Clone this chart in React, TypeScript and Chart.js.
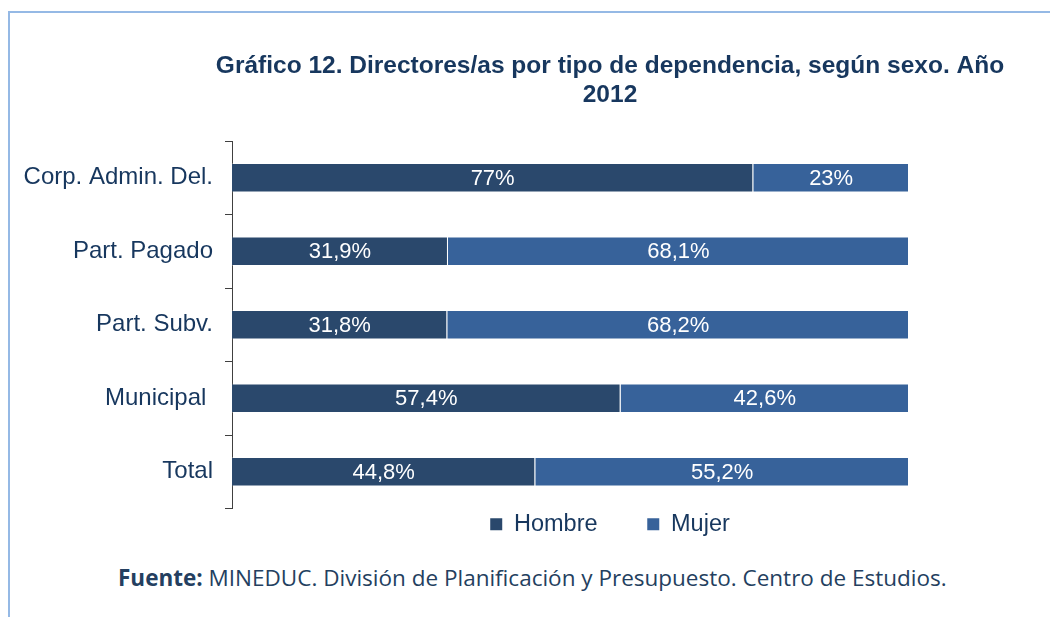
import React, { useEffect, useRef } from 'react';
import { Chart, registerables } from 'chart.js';

Chart.register(...registerables);

const categories = ['Corp. Admin. Del.', 'Part. Pagado', 'Part. Subv.', 'Municipal ', 'Total'];
const seriesNames = ['Hombre', 'Mujer'];
const hombre = [77, 31.9, 31.8, 57.4, 44.8];
const mujer = [23, 68.1, 68.2, 42.6, 55.2];
const titleLines = ['Gráfico 12. Directores/as por tipo de dependencia, según sexo. Año', '2012'];
const sourceLabel = 'Fuente:';
const sourceText = ' MINEDUC. División de Planificación y Presupuesto. Centro de Estudios.';

const FONT = "'Liberation Sans', Arial, sans-serif";
const NAVY = '#17375E';
const C_HOMBRE = '#2A486C';
const C_MUJER = '#37629A';

const fmt = (v: number) => String(v).replace('.', ',') + '%';

const valueLabels = {
  id: 'valueLabels',
  afterDatasetsDraw(chart: any) {
    const ctx = chart.ctx;
    ctx.save();
    ctx.fillStyle = '#FFFFFF';
    ctx.font = `22px ${FONT}`;
    ctx.textAlign = 'center';
    ctx.textBaseline = 'middle';
    chart.data.datasets.forEach((ds: any, di: number) => {
      const meta = chart.getDatasetMeta(di);
      meta.data.forEach((el: any, i: number) => {
        const { x, base, y } = el.getProps(['x', 'base', 'y'], true);
        ctx.fillText(fmt(ds.data[i]), (x + base) / 2, y + 1);
      });
    });
    ctx.restore();
  },
};

export default function App() {
  const ref = useRef<HTMLCanvasElement | null>(null);

  useEffect(() => {
    if (!ref.current) return;
    const chart = new Chart(ref.current, {
      type: 'bar',
      data: {
        labels: categories,
        datasets: [
          {
            label: seriesNames[0],
            data: hombre,
            backgroundColor: C_HOMBRE,
            borderColor: 'rgba(255,255,255,0.25)',
            borderWidth: 1,
          },
          {
            label: seriesNames[1],
            data: mujer,
            backgroundColor: C_MUJER,
            borderColor: 'rgba(255,255,255,0.25)',
            borderWidth: 1,
          },
        ],
      },
      options: {
        indexAxis: 'y',
        responsive: false,
        animation: false,
        maintainAspectRatio: false,
        layout: { padding: 0 },
        datasets: { bar: { categoryPercentage: 1, barPercentage: 0.4 } },
        scales: {
          x: { stacked: true, min: 0, max: 100, display: false },
          y: {
            stacked: true,
            position: 'left',
            grid: {
              display: true,
              drawOnChartArea: false,
              drawTicks: true,
              tickLength: 7,
              offset: true,
              color: '#404040',
            },
            border: { display: true, color: '#404040', width: 1 },
            ticks: { color: NAVY, font: { family: FONT, size: 24 }, padding: 12 },
            afterFit: (s: any) => {
              s.width = 232;
            },
          },
          y2: {
            type: 'category',
            position: 'right',
            display: true,
            grid: { display: false },
            border: { display: false },
            ticks: { display: false },
            afterFit: (s: any) => {
              s.width = 311;
            },
          },
        },
        plugins: {
          title: {
            display: true,
            text: titleLines,
            color: NAVY,
            font: { family: FONT, size: 24.5, weight: 'bold', lineHeight: 29 / 24.5 },
            padding: { top: 52, bottom: 31 },
          },
          legend: {
            display: true,
            position: 'bottom',
            labels: {
              color: NAVY,
              font: { family: FONT, size: 23.5 },
              boxWidth: 12,
              boxHeight: 12,
              padding: 4,
              generateLabels: (c: any) => {
                const items = (Chart.defaults.plugins.legend.labels as any).generateLabels(c);
                return items.map((it: any, i: number) => ({
                  ...it,
                  text: i === 0 ? it.text + '       ' : it.text,
                  lineWidth: 0,
                }));
              },
            },
          },
          tooltip: { enabled: false },
        },
      },
      plugins: [valueLabels],
    } as any);
    return () => chart.destroy();
  }, []);

  return (
    <div
      style={{
        position: 'absolute',
        left: 0,
        top: 0,
        width: 1050,
        height: 617,
        overflow: 'hidden',
        background: '#FFFFFF',
      }}
    >
      <div
        style={{
          position: 'absolute',
          left: 8,
          top: 11,
          width: 1100,
          height: 700,
          borderTop: '2px solid #95B9E5',
          borderLeft: '2px solid #95B9E5',
        }}
      />
      <canvas
        ref={ref}
        width={1220}
        height={546}
        style={{ position: 'absolute', left: 0, top: 0, width: 1220, height: 546 }}
      />
      <div
        style={{
          position: 'absolute',
          left: 118,
          top: 565,
          whiteSpace: 'nowrap',
          fontFamily: "'Open Sans', sans-serif",
          fontSize: 22.5,
          lineHeight: '26px',
          color: '#243F60',
        }}
      >
        <b>{sourceLabel}</b>
        {sourceText}
      </div>
    </div>
  );
}
